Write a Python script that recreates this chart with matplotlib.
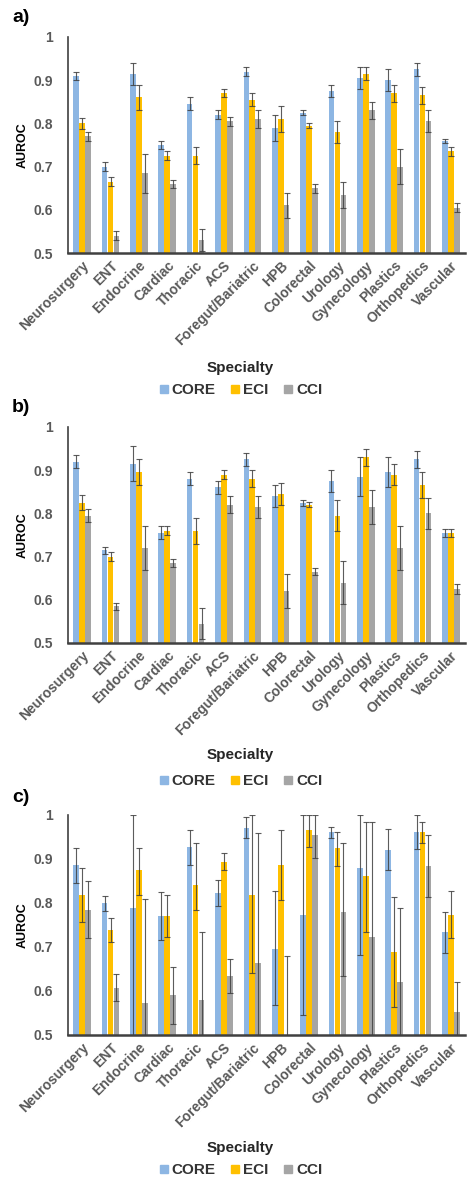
import matplotlib
matplotlib.use('Agg')
import matplotlib.pyplot as plt
from matplotlib.lines import Line2D
import numpy as np

plt.rcParams['font.family'] = ['Liberation Sans', 'DejaVu Sans']
plt.rcParams['font.weight'] = 'bold'

# data ________________________________________________________________________
specialties = ['Neurosurgery', 'ENT', 'Endocrine', 'Cardiac', 'Thoracic', 'ACS', 'Foregut/Bariatric', 'HPB',
               'Colorectal', 'Urology', 'Gynecology', 'Plastics', 'Orthopedics', 'Vascular']
models = ['CORE', 'ECI', 'CCI']

# a) AUROC and half-width of the error bar
a_core = [0.91, 0.70, 0.915, 0.75, 0.845, 0.82, 0.92, 0.79, 0.825, 0.875, 0.905, 0.90, 0.925, 0.76]
a_core_err = [0.01, 0.01, 0.025, 0.01, 0.015, 0.01, 0.01, 0.03, 0.005, 0.015, 0.025, 0.025, 0.015, 0.005]
a_eci = [0.80, 0.665, 0.86, 0.725, 0.725, 0.87, 0.855, 0.81, 0.795, 0.78, 0.915, 0.87, 0.865, 0.735]
a_eci_err = [0.012, 0.01, 0.03, 0.01, 0.02, 0.01, 0.015, 0.03, 0.005, 0.025, 0.015, 0.02, 0.02, 0.01]
a_cci = [0.77, 0.54, 0.685, 0.66, 0.53, 0.805, 0.81, 0.61, 0.65, 0.635, 0.83, 0.70, 0.805, 0.605]
a_cci_err = [0.01, 0.01, 0.045, 0.01, 0.025, 0.01, 0.02, 0.03, 0.01, 0.03, 0.02, 0.04, 0.025, 0.01]

# b)
b_core = [0.92, 0.715, 0.915, 0.755, 0.88, 0.86, 0.925, 0.84, 0.825, 0.875, 0.885, 0.895, 0.925, 0.755]
b_core_err = [0.015, 0.008, 0.04, 0.015, 0.015, 0.015, 0.015, 0.025, 0.007, 0.025, 0.045, 0.035, 0.02, 0.01]
b_eci = [0.825, 0.70, 0.895, 0.76, 0.76, 0.89, 0.88, 0.845, 0.82, 0.795, 0.93, 0.89, 0.865, 0.755]
b_eci_err = [0.018, 0.01, 0.03, 0.01, 0.03, 0.01, 0.02, 0.025, 0.006, 0.035, 0.02, 0.025, 0.03, 0.01]
b_cci = [0.795, 0.585, 0.72, 0.685, 0.545, 0.82, 0.815, 0.62, 0.665, 0.64, 0.815, 0.72, 0.80, 0.625]
b_cci_err = [0.015, 0.008, 0.05, 0.01, 0.035, 0.02, 0.025, 0.04, 0.008, 0.05, 0.04, 0.05, 0.035, 0.012]

# c) AUROC with lower / upper bounds (asymmetric)
c_core = [0.886, 0.80, 0.789, 0.77, 0.928, 0.822, 0.97, 0.695, 0.773, 0.962, 0.879, 0.92, 0.962, 0.735]
c_core_lo = [0.845, 0.782, 0.45, 0.716, 0.886, 0.793, 0.947, 0.568, 0.545, 0.947, 0.682, 0.875, 0.922, 0.687]
c_core_hi = [0.926, 0.816, 1.0, 0.826, 0.966, 0.852, 0.995, 0.828, 1.0, 0.973, 1.0, 0.968, 1.0, 0.78]
c_eci = [0.818, 0.739, 0.875, 0.77, 0.841, 0.894, 0.818, 0.886, 0.966, 0.925, 0.861, 0.689, 0.962, 0.773]
c_eci_lo = [0.757, 0.712, 0.818, 0.723, 0.784, 0.875, 0.64, 0.807, 0.928, 0.885, 0.735, 0.564, 0.936, 0.72]
c_eci_hi = [0.88, 0.766, 0.926, 0.818, 0.936, 0.914, 1.0, 0.966, 1.0, 0.961, 0.985, 0.814, 0.985, 0.828]
c_cci = [0.784, 0.607, 0.573, 0.591, 0.58, 0.633, 0.663, 0.50, 0.955, 0.78, 0.723, 0.621, 0.884, 0.553]
c_cci_lo = [0.72, 0.577, 0.34, 0.525, 0.42, 0.595, 0.37, 0.32, 0.902, 0.633, 0.46, 0.45, 0.814, 0.485]
c_cci_hi = [0.85, 0.638, 0.809, 0.655, 0.735, 0.672, 0.96, 0.68, 1.0, 0.937, 0.983, 0.788, 0.955, 0.621]

colors = ['#8DB6E3', '#FFC000', '#A5A5A5']
grey_txt = '#595959'

# helpers _____________________________________________________________________
def asym(vals, lo, hi):
    v = np.array(vals)
    return [v - np.array(lo), np.array(hi) - v]


def draw_panel(ax, series, errs):
    x = np.arange(len(specialties))
    w = 0.2
    for k, (vals, err) in enumerate(zip(series, errs)):
        ax.bar(x + (k - 1) * 0.21, vals, width=w, color=colors[k], zorder=2)
        ax.errorbar(x + (k - 1) * 0.21, vals, yerr=err, fmt='none', ecolor='#3F3F3F', elinewidth=0.8,
                    capsize=2, capthick=0.8, alpha=0.85, zorder=3)
    ax.set_ylim(0.5, 1.0)
    ax.set_xlim(-0.5, len(specialties) - 0.5)
    ax.set_yticks([0.5, 0.6, 0.7, 0.8, 0.9, 1.0])
    ax.set_yticklabels(['0.5', '0.6', '0.7', '0.8', '0.9', '1'])
    ax.set_xticks(x)
    ax.set_xticklabels(specialties, rotation=45, ha='right', rotation_mode='anchor')
    ax.tick_params(axis='both', length=0, colors=grey_txt, labelsize=10)
    ax.tick_params(axis='y', pad=11)
    ax.tick_params(axis='x', pad=4)
    for s in ['top', 'right']:
        ax.spines[s].set_visible(False)
    ax.spines['left'].set_color('#404040')
    ax.spines['left'].set_linewidth(1.2)
    ax.spines['bottom'].set_color('#404040')
    ax.spines['bottom'].set_linewidth(1.8)
    ax.set_ylabel('AUROC', fontsize=9, fontweight='bold', color='black', labelpad=3)


# plot ________________________________________________________________________
W, H = 467, 1182
fig = plt.figure(figsize=(W / 100, H / 100), dpi=100)

panels = [
    ('a)', [a_core, a_eci, a_cci], [a_core_err, a_eci_err, a_cci_err], 253, 37, 17, 368, 390),
    ('b)', [b_core, b_eci, b_cci], [b_core_err, b_eci_err, b_cci_err], 643, 427, 407, 755, 781),
    ('c)', [c_core, c_eci, c_cci],
     [asym(c_core, c_core_lo, c_core_hi), asym(c_eci, c_eci_lo, c_eci_hi), asym(c_cci, c_cci_lo, c_cci_hi)],
     1035, 815, 797, 1148, 1170),
]

handles = [Line2D([], [], marker='s', linestyle='none', markersize=5.5, color=c) for c in colors]

for lab, series, errs, y0, y1, ylab, yspec, yleg in panels:
    ax = fig.add_axes([68 / W, 1 - y0 / H, (465 - 68) / W, (y0 - y1) / H])
    draw_panel(ax, series, errs)
    fig.text(12 / W, 1 - ylab / H, lab, fontsize=14, fontweight='bold', va='center', ha='left')
    fig.text(240 / W, 1 - yspec / H, 'Specialty', fontsize=11, fontweight='bold', color='#262626',
             ha='center', va='center')
    fig.legend(handles, models, loc='center', bbox_to_anchor=(240 / W, 1 - yleg / H), ncol=3, frameon=False,
               handletextpad=0.1, columnspacing=0.9, handlelength=0.8,
               prop={'weight': 'bold', 'size': 11}, labelcolor='#333333')

fig.savefig('out.png', dpi=100)
